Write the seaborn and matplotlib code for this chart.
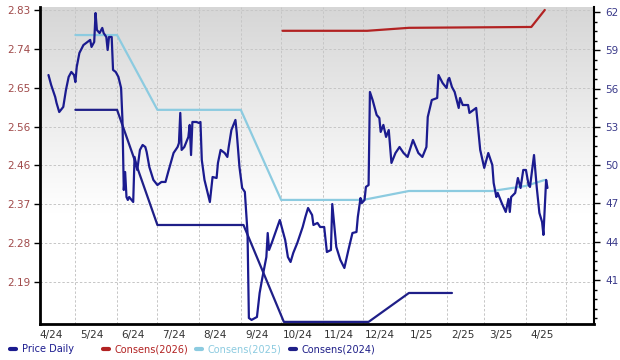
import numpy as np
import pandas as pd
import matplotlib
matplotlib.use("Agg")
import matplotlib.pyplot as plt
import matplotlib.dates as mdates
from matplotlib.ticker import FixedLocator, FixedFormatter, AutoMinorLocator, NullFormatter
from matplotlib.lines import Line2D
import seaborn as sns

# ---------------- data ----------------
start_date = "2024-04-01"   # day 0 of the day offsets below

price_days = [10, 12, 15, 16, 18, 21, 23, 25, 27, 29, 30, 31, 33, 36, 39, 41, 42, 44, 45, 46,
              48, 50, 51, 53, 54, 55, 57, 58, 60, 62, 64, 65, 66, 67, 68, 69, 70, 73, 74, 76,
              78, 80, 82, 83, 85, 88, 91, 94, 97, 99, 103, 106, 107, 108, 109, 111, 114, 115, 116, 117,
              120, 122, 123, 124, 126, 130, 132, 135, 136, 138, 141, 143, 144, 146, 149, 150, 152, 154, 156, 158,
              159, 161, 165, 167, 169, 172, 173, 174, 176, 182, 186, 188, 190, 192, 195, 199, 201, 203, 206, 207,
              210, 212, 215, 217, 220, 221, 224, 227, 230, 233, 236, 239, 240, 242, 243, 245, 246, 248, 249, 251,
              254, 256, 257, 259, 261, 263, 265, 268, 271, 274, 277, 281, 285, 288, 291, 292, 295, 299, 300, 303,
              306, 307, 308, 310, 312, 315, 316, 318, 322, 323, 326, 328, 331, 334, 337, 340, 341, 343, 344, 347,
              350, 352, 353, 354, 357, 359, 361, 363, 365, 367, 368, 371, 373, 375, 377, 378, 379, 380, 381]
price_vals = [57.06, 56.28, 55.34, 54.87, 54.16, 54.56, 55.89, 56.91, 57.30, 57.06, 56.51, 57.69, 58.79, 59.41, 59.65, 59.81, 59.26, 59.65, 61.92, 60.59,
              60.35, 60.75, 60.35, 60.04, 59.02, 60.04, 60.04, 57.46, 57.30, 56.91, 56.04, 53.54, 48.05, 49.46, 47.50, 47.27, 47.50, 47.11, 50.64, 49.62,
              51.19, 51.58, 51.42, 51.03, 49.85, 48.84, 48.44, 48.68, 48.68, 49.46, 50.95, 51.42, 51.73, 54.09, 51.19, 51.42, 52.21, 53.15, 50.79, 53.38,
              53.38, 53.30, 53.38, 50.40, 48.84, 47.11, 49.07, 48.99, 50.17, 51.19, 50.95, 50.64, 51.42, 52.75, 53.54, 52.52, 49.85, 48.21, 47.90, 44.68,
              38.02, 37.87, 38.10, 39.98, 41.16, 42.80, 44.68, 43.35, 43.90, 45.70, 44.13, 42.80, 42.41, 43.12, 43.90, 45.15, 45.94, 46.64, 46.09, 45.31,
              45.47, 45.15, 45.15, 43.19, 43.35, 46.95, 43.59, 42.57, 41.94, 43.35, 44.68, 44.76, 45.94, 47.42, 47.03, 47.27, 48.29, 48.44, 55.73, 55.10,
              53.93, 53.69, 52.60, 53.15, 52.21, 52.75, 50.17, 50.95, 51.42, 50.95, 50.64, 51.97, 50.95, 50.64, 51.42, 53.77, 55.10, 55.26, 57.06, 56.44,
              56.04, 56.67, 56.83, 56.12, 55.73, 54.48, 55.26, 54.71, 54.71, 54.09, 54.32, 54.48, 51.19, 49.78, 50.95, 50.01, 48.60, 47.50, 47.82, 47.03,
              46.33, 47.35, 46.33, 47.50, 47.82, 48.99, 48.21, 49.62, 49.62, 48.44, 48.29, 50.79, 48.29, 46.25, 45.54, 44.53, 46.72, 48.84, 48.21]

c2024_days = [30, 61, 91, 155, 185, 248, 278, 310]
c2024_vals = [2.595, 2.595, 2.324, 2.324, 2.096, 2.096, 2.164, 2.164]

c2025_days = [30, 61, 91, 153, 183, 244, 278, 340, 365, 379]
c2025_vals = [2.771, 2.771, 2.595, 2.595, 2.383, 2.383, 2.404, 2.404, 2.416, 2.430]

c2026_days = [184, 247, 278, 369, 379]
c2026_vals = [2.781, 2.781, 2.788, 2.790, 2.830]

x_labels = ["4/24", "5/24", "6/24", "7/24", "8/24", "9/24", "10/24", "11/24",
            "12/24", "1/25", "2/25", "3/25", "4/25"]
legend_labels = ["Price Daily", "Consens(2026)", "Consens(2025)", "Consens(2024)"]

# ---------------- styling ----------------
C_PRICE = "#1b1b8f"
C_2024 = "#1f1f88"
C_2025 = "#8ccbe0"
C_2026 = "#b22222"

sns.set_style("white")
plt.rcParams["font.family"] = ["DejaVu Sans"]

t0 = pd.Timestamp(start_date)
def to_dates(days):
    return t0 + pd.to_timedelta(np.array(days), unit="D")

price_df = pd.DataFrame({"date": to_dates(price_days), "value": price_vals})
c24 = pd.DataFrame({"date": to_dates(c2024_days), "value": c2024_vals})
c25 = pd.DataFrame({"date": to_dates(c2025_days), "value": c2025_vals})
c26 = pd.DataFrame({"date": to_dates(c2026_days), "value": c2026_vals})

fig = plt.figure(figsize=(6.2, 3.6), dpi=100)
ax1 = fig.add_axes([40/620, 1-324/360, (594-40)/620, (324-7)/360])
ax2 = ax1.twinx()

lw = 1.6
sns.lineplot(data=c25, x="date", y="value", ax=ax1, color=C_2025, lw=lw, sort=False, estimator=None, zorder=3)
sns.lineplot(data=c24, x="date", y="value", ax=ax1, color=C_2024, lw=lw, sort=False, estimator=None, zorder=3)
sns.lineplot(data=c26, x="date", y="value", ax=ax1, color=C_2026, lw=lw, sort=False, estimator=None, zorder=3)
sns.lineplot(data=price_df, x="date", y="value", ax=ax2, color=C_PRICE, lw=lw, sort=False, estimator=None, zorder=4)

xmin = t0 + pd.Timedelta(days=3.7)
xmax = t0 + pd.Timedelta(days=415.6)
ax1.set_xlim(xmin, xmax)
ax1.set_ylim(2.091, 2.837)
ax2.set_ylim(37.55, 62.39)

# background gradient
grad = np.linspace(0, 1, 256)
frac = np.clip(grad / 0.65, 0, 1)
top_c = np.array([0.84, 0.84, 0.84])
bot_c = np.array([1.0, 1.0, 1.0])
img = (top_c[None, :] * (1 - frac)[:, None] + bot_c[None, :] * frac[:, None]).reshape(256, 1, 3)
xl = ax1.get_xlim(); yl = ax1.get_ylim()
ax1.imshow(img, extent=[xl[0], xl[1], yl[0], yl[1]], aspect="auto", origin="upper", zorder=0)
ax1.set_xlim(xl); ax1.set_ylim(yl)

TICK_FS = 7.5
# left axis ticks
left_ticks = np.linspace(2.19, 2.83, 8)
ax1.yaxis.set_major_locator(FixedLocator(left_ticks))
ax1.set_yticklabels([f"{v:.2f}" for v in left_ticks])
ax1.tick_params(axis="y", which="major", left=True, length=4, width=1, color="black",
                labelcolor="#a04a4a", labelsize=TICK_FS, pad=3)

# right axis ticks
right_ticks = np.arange(41, 63, 3)
ax2.yaxis.set_major_locator(FixedLocator(right_ticks))
ax2.yaxis.set_minor_locator(AutoMinorLocator(4))
ax2.tick_params(axis="y", which="major", right=True, length=4, width=1, color="black",
                labelcolor="#3a3a8a", labelsize=TICK_FS, pad=4)
ax2.tick_params(axis="y", which="minor", right=True, length=2.5, width=1, color="black")

# x axis: gridlines at month starts, labels mid-month
month_starts = pd.date_range("2024-04-01", "2025-06-01", freq="MS")
ax1.xaxis.set_major_locator(FixedLocator(mdates.date2num(month_starts)))
ax1.xaxis.set_major_formatter(NullFormatter())
label_pos = month_starts[:len(x_labels)] + pd.Timedelta(days=12)
ax1.xaxis.set_minor_locator(FixedLocator(mdates.date2num(label_pos)))
ax1.xaxis.set_minor_formatter(FixedFormatter(x_labels))
ax1.tick_params(axis="x", which="both", length=0, labelsize=TICK_FS, labelcolor="#333333", pad=4)

ax1.set_axisbelow(True)
ax1.grid(True, which="major", axis="both", color="#c6c6c6", linestyle=(0, (2.5, 2)), linewidth=0.7)
ax2.grid(False)

for a in (ax1, ax2):
    a.set_xlabel("")
    a.set_ylabel("")
    a.spines["top"].set_visible(False)
ax1.spines["left"].set_linewidth(2)
ax1.spines["bottom"].set_linewidth(2)
ax1.spines["right"].set_visible(False)
ax2.spines["left"].set_visible(False)
ax2.spines["bottom"].set_visible(False)
ax2.spines["right"].set_linewidth(1.5)
for s in ("left", "bottom"):
    ax1.spines[s].set_color("black")
ax2.spines["right"].set_color("black")

# legend: one entry per slot, evenly spaced along the bottom
legend_colors = [C_PRICE, C_2026, C_2025, C_2024]
legend_x = [10, 103, 196, 290]
for lab, col, xp in zip(legend_labels, legend_colors, legend_x):
    fig.legend([Line2D([0], [0], color=col, lw=3)], [lab], loc="center left",
               bbox_to_anchor=(xp / 620, 1 - 349 / 360), frameon=False,
               handlelength=0.6, handletextpad=0.6, borderpad=0, borderaxespad=0,
               fontsize=7, labelcolor=col)

fig.savefig("out.png", dpi=100)
